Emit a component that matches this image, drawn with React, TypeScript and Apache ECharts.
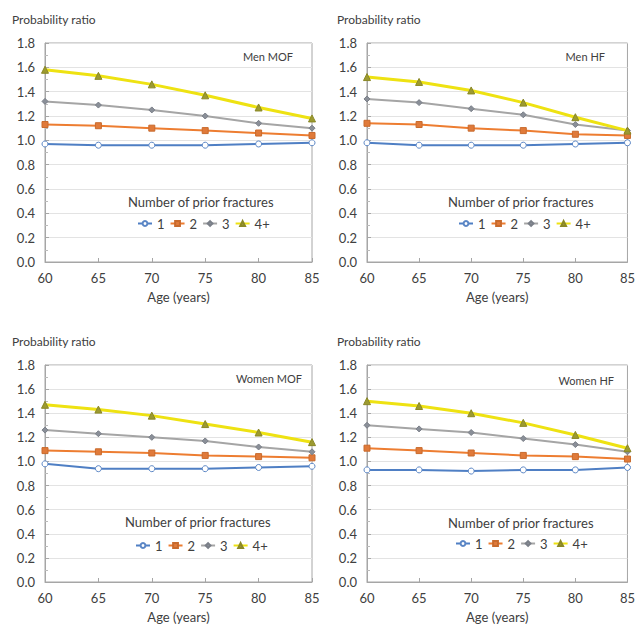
import React, { useEffect, useRef } from "react";
import * as echarts from "echarts";

const ages = [60, 65, 70, 75, 80, 85];
const seriesNames = ["1", "2", "3", "4+"];
const panelTitles = ["Men MOF", "Men HF", "Women MOF", "Women HF"];

const menMOF1 = [0.97, 0.96, 0.96, 0.96, 0.97, 0.98];
const menMOF2 = [1.13, 1.12, 1.1, 1.08, 1.06, 1.04];
const menMOF3 = [1.32, 1.29, 1.25, 1.2, 1.14, 1.1];
const menMOF4 = [1.58, 1.53, 1.46, 1.37, 1.27, 1.18];

const menHF1 = [0.98, 0.96, 0.96, 0.96, 0.97, 0.98];
const menHF2 = [1.14, 1.13, 1.1, 1.08, 1.05, 1.04];
const menHF3 = [1.34, 1.31, 1.26, 1.21, 1.13, 1.08];
const menHF4 = [1.52, 1.48, 1.41, 1.31, 1.19, 1.08];

const womenMOF1 = [0.98, 0.94, 0.94, 0.94, 0.95, 0.96];
const womenMOF2 = [1.09, 1.08, 1.07, 1.05, 1.04, 1.03];
const womenMOF3 = [1.26, 1.23, 1.2, 1.17, 1.12, 1.08];
const womenMOF4 = [1.47, 1.43, 1.38, 1.31, 1.24, 1.16];

const womenHF1 = [0.93, 0.93, 0.92, 0.93, 0.93, 0.95];
const womenHF2 = [1.11, 1.09, 1.07, 1.05, 1.04, 1.02];
const womenHF3 = [1.3, 1.27, 1.24, 1.19, 1.14, 1.08];
const womenHF4 = [1.5, 1.46, 1.4, 1.32, 1.22, 1.11];

const panelData = [
  [menMOF1, menMOF2, menMOF3, menMOF4],
  [menHF1, menHF2, menHF3, menHF4],
  [womenMOF1, womenMOF2, womenMOF3, womenMOF4],
  [womenHF1, womenHF2, womenHF3, womenHF4],
];

const FONT = "Lato";
const TEXT = "#404040";

const grids = [
  { left: 45, top: 43, width: 267, height: 219 },
  { left: 367, top: 43, width: 264, height: 219 },
  { left: 45, top: 365, width: 267, height: 217 },
  { left: 367, top: 365, width: 264, height: 217 },
];

const seriesStyles = [
  { line: "#4F7FC4", width: 2, symbol: "circle", size: 6, fill: "#ffffff", border: "#5B86C5" },
  { line: "#ED7D31", width: 2, symbol: "rect", size: 6, fill: "#E07A3A", border: "#C86A2C" },
  { line: "#A5A5A5", width: 2, symbol: "diamond", size: 6, fill: "#8A8F98", border: "#7A7F88" },
  { line: "#EEE212", width: 3, symbol: "triangle", size: 7, fill: "#9C9A30", border: "#8A8826" },
];

export default function App() {
  const ref = useRef<HTMLDivElement>(null);
  useEffect(() => {
    if (!ref.current) return;
    const chart = echarts.init(ref.current, undefined, { renderer: "svg" });

    const gridOpt = grids.map((g) => ({
      left: g.left,
      top: g.top,
      width: g.width,
      height: g.height,
      show: true,
      borderColor: "#A6A6A6",
      borderWidth: 1,
      backgroundColor: "transparent",
      containLabel: false,
    }));

    const xAxes = grids.map((_, i) => ({
      type: "value",
      gridIndex: i,
      min: 60,
      max: 85,
      interval: 5,
      name: "Age (years)",
      nameLocation: "middle",
      nameGap: 28,
      nameTextStyle: { fontFamily: FONT, fontSize: 13, color: TEXT },
      axisLine: { show: true, lineStyle: { color: "#A6A6A6" } },
      axisTick: { show: true, inside: true, length: 4, lineStyle: { color: "#A6A6A6" } },
      axisLabel: { fontFamily: FONT, fontSize: 13, color: TEXT, margin: 9 },
      splitLine: { show: false },
    }));

    const yAxes = grids.map((_, i) => ({
      type: "value",
      gridIndex: i,
      min: 0,
      max: 1.8,
      interval: 0.2,
      axisLine: { show: true, lineStyle: { color: "#A6A6A6" } },
      axisTick: { show: true, inside: true, length: 4, lineStyle: { color: "#A6A6A6" } },
      minorTick: { show: true, splitNumber: 2, length: 3, lineStyle: { color: "#BBBBBB" } },
      axisLabel: {
        fontFamily: FONT,
        fontSize: 13,
        color: TEXT,
        margin: 10,
        formatter: (v: number) => v.toFixed(1),
      },
      splitLine: { show: true, lineStyle: { color: "#E3E3E3", width: 1 } },
    }));

    const series: any[] = [];
    panelData.forEach((panel, pi) => {
      panel.forEach((vals, si) => {
        const st = seriesStyles[si];
        series.push({
          type: "line",
          name: seriesNames[si],
          xAxisIndex: pi,
          yAxisIndex: pi,
          data: ages.map((a, k) => [a, vals[k]]),
          symbol: st.symbol,
          symbolSize: st.size,
          showSymbol: true,
          lineStyle: { color: st.line, width: st.width },
          itemStyle: { color: st.fill, borderColor: st.border, borderWidth: 1 },
          z: 2 + si,
        });
      });
    });

    const titles: any[] = [];
    const legendTitlePos = [
      { x: 128, y: 195 },
      { x: 448, y: 195 },
      { x: 125, y: 515 },
      { x: 448, y: 516 },
    ];
    const panelLabelPos = [
      { right: 638 - 293, top: 51 },
      { right: 638 - 605, top: 51 },
      { right: 638 - 302, top: 373 },
      { right: 638 - 614, top: 375 },
    ];
    const yTitlePos = [
      { left: 12, top: 13 },
      { left: 337, top: 13 },
      { left: 12, top: 335 },
      { left: 337, top: 335 },
    ];
    grids.forEach((_, i) => {
      titles.push({
        text: "Probability ratio",
        left: yTitlePos[i].left,
        top: yTitlePos[i].top,
        padding: 0,
        textStyle: { fontFamily: FONT, fontSize: 12, fontWeight: "normal", color: TEXT },
      });
      titles.push({
        text: panelTitles[i],
        right: panelLabelPos[i].right,
        top: panelLabelPos[i].top,
        padding: 0,
        textStyle: { fontFamily: FONT, fontSize: 11, fontWeight: "normal", color: TEXT },
      });
      titles.push({
        text: "Number of prior fractures",
        left: legendTitlePos[i].x,
        top: legendTitlePos[i].y,
        padding: 0,
        textStyle: { fontFamily: FONT, fontSize: 13, fontWeight: "normal", color: TEXT },
      });
    });

    const legendPos = [
      { left: 137, top: 217 },
      { left: 458, top: 217 },
      { left: 135, top: 539 },
      { left: 455, top: 537 },
    ];
    const legends = legendPos.map((p) => ({
      data: seriesNames,
      left: p.left,
      top: p.top,
      padding: 0,
      itemWidth: 14,
      itemHeight: 6,
      itemGap: 5,
      selectedMode: false,
      textStyle: { fontFamily: FONT, fontSize: 13, color: TEXT },
    }));

    chart.setOption({
      animation: false,
      backgroundColor: "#ffffff",
      title: titles,
      legend: legends,
      grid: gridOpt,
      xAxis: xAxes,
      yAxis: yAxes,
      series,
    });
    return () => chart.dispose();
  }, []);

  return (
    <div
      ref={ref}
      style={{ position: "fixed", left: 0, top: 0, width: 638, height: 629 }}
    />
  );
}
